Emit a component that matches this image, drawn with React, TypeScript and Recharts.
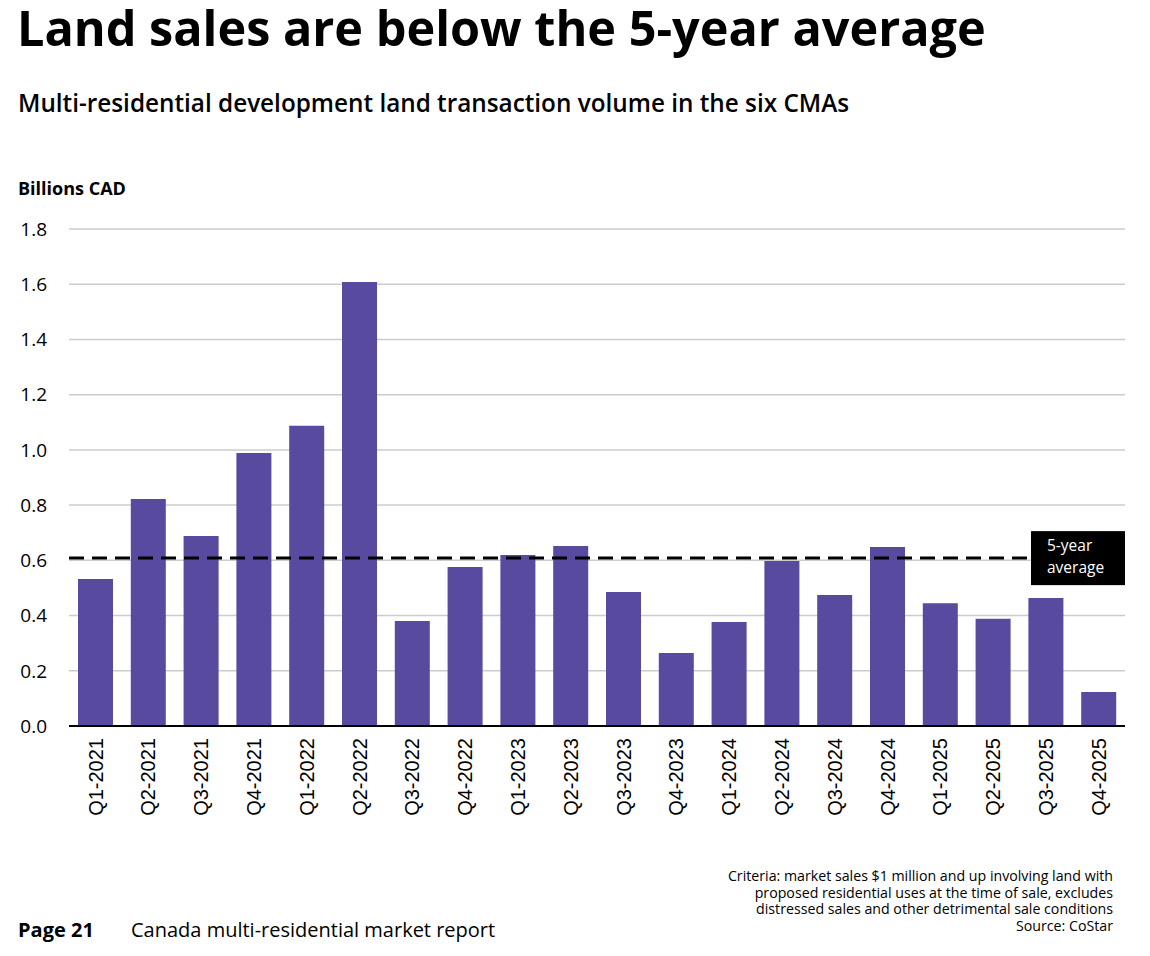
import React from 'react';
import { BarChart, Bar, XAxis, YAxis, CartesianGrid, ReferenceLine } from 'recharts';

const quarters = [
  'Q1-2021', 'Q2-2021', 'Q3-2021', 'Q4-2021',
  'Q1-2022', 'Q2-2022', 'Q3-2022', 'Q4-2022',
  'Q1-2023', 'Q2-2023', 'Q3-2023', 'Q4-2023',
  'Q1-2024', 'Q2-2024', 'Q3-2024', 'Q4-2024',
  'Q1-2025', 'Q2-2025', 'Q3-2025', 'Q4-2025',
];

const volumes = [
  0.532, 0.822, 0.688, 0.989,
  1.087, 1.608, 0.380, 0.576,
  0.619, 0.652, 0.485, 0.264,
  0.377, 0.598, 0.474, 0.648,
  0.445, 0.388, 0.464, 0.123,
];

const fiveYearAverage = 0.608;
const yTicks = [0, 0.2, 0.4, 0.6, 0.8, 1.0, 1.2, 1.4, 1.6, 1.8];

const criteriaLines = [
  'Criteria: market sales $1 million and up involving land with',
  'proposed residential uses at the time of sale, excludes',
  'distressed sales and other detrimental sale conditions',
  'Source: CoStar',
];

const data = quarters.map((q, i) => ({ quarter: q, volume: volumes[i] }));

const OPEN = '"Open Sans", "Noto Sans", sans-serif';
const ARIAL = '"Liberation Sans", Arial, sans-serif';

const QuarterTick = (props: any) => {
  const { x, y, payload } = props;
  return (
    <text
      transform={`translate(${x},${y + 4}) rotate(-90)`}
      textAnchor="end"
      dy="0.36em"
      fill="#000"
      fontSize={20}
      fontFamily={ARIAL}
    >
      {payload.value}
    </text>
  );
};

const AverageLabel = (props: any) => {
  const { viewBox } = props;
  if (!viewBox) return null;
  const right = viewBox.x + viewBox.width;
  const boxW = 94;
  const boxH = 54;
  return (
    <g>
      <rect x={right - boxW} y={viewBox.y - boxH / 2} width={boxW} height={boxH} fill="#000" />
      <text x={right - boxW + 16} y={viewBox.y - 7} fill="#fff" fontSize={15.5} fontFamily={OPEN} fontWeight={500}>
        5-year
      </text>
      <text x={right - boxW + 16} y={viewBox.y + 15} fill="#fff" fontSize={15.5} fontFamily={OPEN} fontWeight={500}>
        average
      </text>
    </g>
  );
};

export default function App() {
  return (
    <div style={{ position: 'absolute', left: 0, top: 0, width: 1150, height: 956, background: '#fff', overflow: 'hidden' }}>
      <div style={{ position: 'absolute', left: 17, top: 3, fontFamily: OPEN, fontWeight: 700, fontSize: 48.6, lineHeight: 1, color: '#000', whiteSpace: 'nowrap' }}>
        Land sales are below the 5-year average
      </div>
      <div style={{ position: 'absolute', left: 18, top: 86, fontFamily: OPEN, fontWeight: 600, fontSize: 24.3, color: '#000', whiteSpace: 'nowrap' }}>
        Multi-residential development land transaction volume in the six CMAs
      </div>
      <div style={{ position: 'absolute', left: 18, top: 176, fontFamily: OPEN, fontWeight: 700, fontSize: 18, color: '#000', whiteSpace: 'nowrap' }}>
        Billions CAD
      </div>

      <div style={{ position: 'absolute', left: 0, top: 0 }}>
        <BarChart width={1150} height={830} data={data} margin={{ top: 229, right: 25, bottom: 4, left: 9 }}>
          <CartesianGrid vertical={false} stroke="#cccccc" strokeWidth={1.5} />
          <XAxis
            dataKey="quarter"
            interval={0}
            height={100}
            tickLine={false}
            axisLine={{ stroke: '#000', strokeWidth: 2 }}
            tick={<QuarterTick />}
          />
          <YAxis
            domain={[0, 1.8]}
            ticks={yTicks}
            width={60}
            axisLine={false}
            tickLine={false}
            tickSize={0}
            tickMargin={22}
            tickFormatter={(v: number) => v.toFixed(1)}
            tick={{ fill: '#000', fontSize: 19, fontFamily: OPEN }}
          />
          <Bar dataKey="volume" fill="#584A9E" barSize={35} isAnimationActive={false} />
          <ReferenceLine
            y={fiveYearAverage}
            stroke="#000"
            strokeWidth={3}
            strokeDasharray="15 8"
            label={<AverageLabel />}
          />
        </BarChart>
      </div>

      <div style={{ position: 'absolute', right: 37, top: 868, textAlign: 'right', fontFamily: OPEN, fontSize: 14.2, lineHeight: '16.5px', color: '#000', whiteSpace: 'nowrap' }}>
        {criteriaLines.map((l) => (
          <div key={l}>{l}</div>
        ))}
      </div>
      <div style={{ position: 'absolute', left: 18, top: 916, fontFamily: OPEN, fontWeight: 700, fontSize: 20, color: '#000', whiteSpace: 'nowrap' }}>
        Page 21
      </div>
      <div style={{ position: 'absolute', left: 131, top: 916, fontFamily: OPEN, fontSize: 20, color: '#000', whiteSpace: 'nowrap' }}>
        Canada multi-residential market report
      </div>
    </div>
  );
}
